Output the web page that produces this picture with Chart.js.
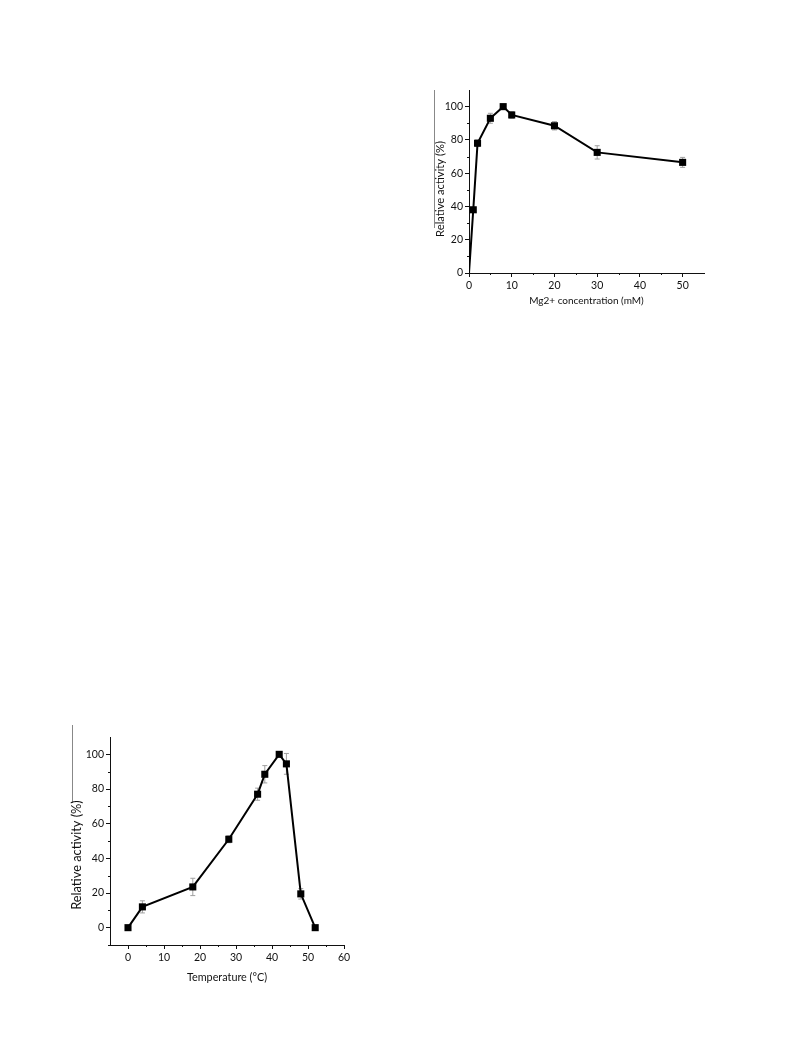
<!DOCTYPE html>
<html lang="en">
<head>
<meta charset="UTF-8">
<title>Relative activity</title>
<script src="https://cdn.jsdelivr.net/npm/chart.js"></script>
<style>
  body { margin: 0; background: #fff; }
  .box { position: absolute; }
</style>
</head>
<body>
<div class="box" style="left:420px;top:80px;width:300px;height:240px;"><canvas id="mgChart" width="300" height="240"></canvas></div>
<div class="box" style="left:60px;top:725px;width:300px;height:270px;"><canvas id="tempChart" width="300" height="270"></canvas></div>

<script>
// Mg2+ dependence
const mgConc = [0, 1, 2, 5, 8, 10, 20, 30, 50];
const mgActivity = [0, 38, 78, 93, 100, 95, 88.5, 72.5, 66.5];
const mgError = [0, 1.5, 2, 3, 1.5, 2, 2.5, 4, 3];
const mgXTicks = [0, 10, 20, 30, 40, 50];
const mgXMinor = [5, 15, 25, 35, 45];
const mgYTicks = [0, 20, 40, 60, 80, 100];
const mgYMinor = [10, 30, 50, 70, 90];

// temperature dependence
const tempC = [0, 4, 18, 28, 36, 38, 42, 44, 48, 52];
const tempActivity = [0, 12, 23.5, 51, 77, 88.5, 100, 94.5, 19.5, 0];
const tempError = [0, 3.5, 5, 2, 3.5, 5, 1, 6, 3, 0.5];
const tempXTicks = [0, 10, 20, 30, 40, 50, 60];
const tempXMinor = [5, 15, 25, 35, 45, 55];
const tempYTicks = [0, 20, 40, 60, 80, 100];
const tempYMinor = [-10, 10, 30, 50, 70, 90];

const FONT = 'Lato, "Open Sans", sans-serif';
const INK = '#111';

// error bars, short minor ticks and the rotated y title
const extras = {
  id: 'extras',
  beforeDatasetsDraw(chart, args, o) {
    const { ctx, scales: { x, y } } = chart;
    const pts = chart.data.datasets[0].data;
    ctx.save();
    ctx.strokeStyle = '#a0a0a0';
    ctx.lineWidth = 1;
    pts.forEach((p, i) => {
      const e = o.err[i];
      if (!e) return;
      const px = x.getPixelForValue(p.x);
      const top = y.getPixelForValue(p.y + e);
      const bot = y.getPixelForValue(p.y - e);
      ctx.beginPath();
      ctx.moveTo(px, top); ctx.lineTo(px, bot);
      ctx.moveTo(px - 2.5, top); ctx.lineTo(px + 2.5, top);
      ctx.moveTo(px - 2.5, bot); ctx.lineTo(px + 2.5, bot);
      ctx.stroke();
    });
    ctx.restore();
  },
  afterDraw(chart, args, o) {
    const { ctx, chartArea: a, scales: { x, y } } = chart;
    ctx.save();
    ctx.strokeStyle = INK;
    ctx.lineWidth = 1;
    ctx.beginPath();
    o.xMinor.forEach(v => {
      const px = Math.round(x.getPixelForValue(v)) + 0.5;
      ctx.moveTo(px, a.bottom); ctx.lineTo(px, a.bottom + 2);
    });
    o.yMinor.forEach(v => {
      const py = Math.round(y.getPixelForValue(v)) + 0.5;
      ctx.moveTo(a.left, py); ctx.lineTo(a.left - 2, py);
    });
    ctx.stroke();
    // leftover edge line of the cropped figure
    if (o.edge) {
      ctx.strokeStyle = '#888';
      ctx.beginPath();
      ctx.moveTo(o.edge[0] + 0.5, o.edge[1]);
      ctx.lineTo(o.edge[0] + 0.5, o.edge[2]);
      ctx.stroke();
    }
    // y title
    ctx.translate(o.yTitle.x, o.yTitle.y);
    ctx.rotate(-Math.PI / 2);
    ctx.fillStyle = INK;
    ctx.font = o.yTitle.size + 'px ' + FONT;
    ctx.textAlign = 'center';
    ctx.textBaseline = 'middle';
    ctx.fillText('Relative activity (%)', 0, 0);
    ctx.restore();
  }
};

function makeChart(id, xs, ys, errs, cfg) {
  const pts = xs.map((v, i) => ({ x: v, y: ys[i] }));
  return new Chart(document.getElementById(id), {
    type: 'scatter',
    data: {
      datasets: [{
        data: pts,
        showLine: true,
        borderColor: '#000',
        backgroundColor: '#000',
        borderWidth: 2,
        pointStyle: 'rect',
        pointRadius: ctx => (cfg.tinyFirst && ctx.dataIndex === 0) ? 1.5 : 5,
        pointBorderWidth: 0,
        tension: 0
      }]
    },
    options: {
      responsive: false,
      animation: false,
      events: [],
      layout: { padding: cfg.padding },
      plugins: {
        legend: { display: false },
        tooltip: { enabled: false },
        extras: { err: errs, xMinor: cfg.xMinor, yMinor: cfg.yMinor, edge: cfg.edge, yTitle: cfg.yTitle }
      },
      scales: {
        x: {
          type: 'linear',
          min: cfg.xMin, max: cfg.xMax,
          afterBuildTicks: s => { s.ticks = cfg.xTicks.map(v => ({ value: v })); },
          afterFit: s => { s.height = cfg.xHeight; },
          border: { color: INK, width: 1 },
          grid: { drawOnChartArea: false, drawTicks: true, tickLength: 4, color: INK },
          ticks: { color: INK, padding: 2, maxRotation: 0, font: { family: FONT, size: 10.5 } },
          title: { display: true, text: cfg.xTitle, color: INK, padding: { top: 2 }, font: { family: FONT, size: cfg.xTitleSize } }
        },
        y: {
          type: 'linear',
          min: cfg.yMin, max: cfg.yMax,
          afterBuildTicks: s => { s.ticks = cfg.yTicks.map(v => ({ value: v })); },
          afterFit: s => { s.width = cfg.yWidth; },
          border: { color: INK, width: 1 },
          grid: { drawOnChartArea: false, drawTicks: true, tickLength: 4, color: INK },
          ticks: { color: INK, padding: 2, font: { family: FONT, size: 10.5 } },
          title: { display: false }
        }
      }
    },
    plugins: [extras]
  });
}

makeChart('mgChart', mgConc, mgActivity, mgError, {
  xMin: 0, xMax: 55, yMin: 0, yMax: 110,
  xTicks: mgXTicks, yTicks: mgYTicks, xMinor: mgXMinor, yMinor: mgYMinor,
  xTitle: 'Mg2+ concentration (mM)', xTitleSize: 10,
  padding: { top: 10, right: 16, left: 0, bottom: 9 },
  xHeight: 38, yWidth: 49, tinyFirst: true,
  edge: [14, 10, 148],
  yTitle: { x: 20, y: 109, size: 11.2 }
});

makeChart('tempChart', tempC, tempActivity, tempError, {
  xMin: -5, xMax: 60, yMin: -10, yMax: 110,
  xTicks: tempXTicks, yTicks: tempYTicks, xMinor: tempXMinor, yMinor: tempYMinor,
  xTitle: 'Temperature (°C)', xTitleSize: 10.8,
  padding: { top: 12, right: 16, left: 0, bottom: 7 },
  xHeight: 43, yWidth: 50, tinyFirst: false,
  edge: [12, 0, 78],
  yTitle: { x: 17, y: 130, size: 12.8 }
});
</script>
</body>
</html>
